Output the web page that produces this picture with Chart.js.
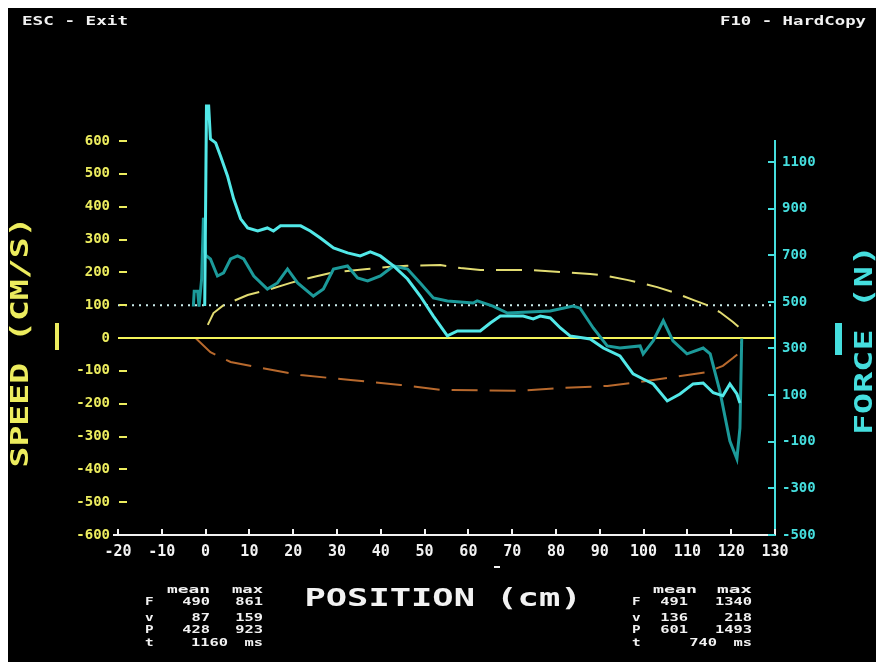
<!DOCTYPE html>
<html><head><meta charset="utf-8">
<script src="https://cdn.jsdelivr.net/npm/chart.js@4"></script>
<style>
html,body{margin:0;padding:0;background:#fff;width:876px;height:662px;overflow:hidden;}
#wrap{position:absolute;left:8px;top:8px;width:868px;height:654px;background:#000;}
canvas{display:block;}
</style></head><body>
<div id="wrap"><canvas id="c" width="868" height="654"></canvas></div>
<script>
// ---- axis ticks ----
const positionTicks = [-20,-10,0,10,20,30,40,50,60,70,80,90,100,110,120,130];
const speedTicks = [-600,-500,-400,-300,-200,-100,0,100,200,300,400,500,600];
const forceTicks = [-500,-300,-100,100,300,500,700,900,1100];

// ---- force curves (N) vs position (cm) ----
const forceAPos = [-2.8,-2.6,-1.8,-1.5,-0.9,-0.5,0.0,1.1,2.7,4.1,5.7,7.3,8.7,11.0,14.1,16.4,18.7,21.0,24.6,26.9,29.2,32.4,34.7,37.0,39.9,42.9,46.1,49.0,52.0,55.2,61.1,62.0,65.6,68.9,78.7,83.9,85.5,88.5,91.7,94.6,99.2,99.9,102.2,104.5,106.7,109.9,113.6,115.2,117.4,119.7,121.3,122.0,122.4];
const forceAVal = [480,545,545,480,600,861,700,684,611,624,684,697,684,611,555,581,641,581,525,555,641,654,603,590,611,654,641,581,517,504,495,504,482,452,461,482,473,388,311,302,311,277,333,419,333,277,302,277,118,-97,-174,-41,343];

const forceBPos = [-0.2,0.2,0.7,1.1,2.3,3.4,5.0,6.4,8.0,9.6,11.9,14.1,15.5,17.1,21.7,23.9,26.2,29.2,32.4,35.3,37.6,39.9,42.9,46.1,49.0,52.0,55.2,57.5,62.7,65.0,67.3,72.5,74.8,76.4,78.7,81.0,83.2,87.8,90.8,94.6,97.6,99.9,102.2,105.4,108.3,111.3,113.6,115.9,118.1,119.7,121.3,122.0];
const forceBVal = [482,1340,1340,1199,1182,1126,1040,942,856,817,804,817,804,826,826,804,774,731,710,697,714,697,654,598,525,439,354,375,375,409,439,439,427,439,431,388,354,341,302,268,191,169,148,75,105,148,152,110,97,148,105,66];

// ---- speed curves (cm/s) vs position (cm) ----
const speedAPos = [0.5,1.8,4.1,9.6,14.1,19.4,24.6,28.5,32.4,36.9,41.5,46.0,53.6,58.2,62.7,74.1,81.0,87.8,91.7,96.2,99.2,103.1,106.7,111.3,114.5,117.4,120.4,122.0,122.3];
const speedAVal = [40,76,100,131,146,168,186,198,204,210,216,220,222,213,207,207,201,195,189,177,168,155,140,116,100,79,49,30,5];

const speedBPos = [-2.3,1.1,5.7,12.5,21.7,33.1,44.5,53.6,71.8,81.6,91.7,99.2,106.7,114.5,118.1,120.4,122.0,122.3];
const speedBVal = [0,-43,-73,-91,-113,-128,-143,-158,-161,-152,-146,-134,-119,-104,-85,-61,-43,-10];

// reference lines (speed axis)
const zeroLineVal = 0;
const dottedLineVal = 100;

// ---- texts ----
const statHeader = ['mean','max'];
const statRows = ['F','v','P','t'];
const leftMean = ['490','87','428','1160'];
const leftMax = ['861','159','923','ms'];
const rightMean = ['491','136','601','740'];
const rightMax = ['1340','218','1493','ms'];

const pts = (xs, ys) => xs.map((x,i)=>({x:x, y:ys[i]}));

const YEL = '#ecec5e', CYAN = '#45dede', WHITE = '#f2f2f2';
const OFF = 8;

function drawFit(ctx, text, x, y, opts){
  const o = Object.assign({size:12, sx:null, w:null, color:WHITE, align:'left', rot:0}, opts);
  ctx.save();
  ctx.font = 'bold ' + o.size + 'px "DejaVu Sans Mono"';
  let sx = o.sx || 1;
  if (o.w) sx = o.w / ctx.measureText(text).width;
  ctx.translate(x - OFF, y - OFF);
  if (o.rot) ctx.rotate(o.rot);
  ctx.scale(sx, 1);
  ctx.textAlign = o.align; ctx.textBaseline = 'middle';
  ctx.fillStyle = o.color;
  ctx.fillText(text, 0, 0);
  ctx.restore();
}

const decor = {
  id: 'decor',
  beforeDraw(chart){
    const ctx = chart.ctx;
    ctx.save(); ctx.fillStyle = '#000'; ctx.fillRect(0,0,chart.width,chart.height); ctx.restore();
  },
  afterDraw(chart){
    const ctx = chart.ctx, ca = chart.chartArea;
    const xs = chart.scales.x, sp = chart.scales.speed, fo = chart.scales.force;
    ctx.save();
    ctx.lineWidth = 2;
    // x axis ticks (upward) + small extension to the left
    ctx.strokeStyle = WHITE;
    ctx.beginPath();
    positionTicks.forEach(v => { const p = Math.round(xs.getPixelForValue(v)); ctx.moveTo(p, ca.bottom); ctx.lineTo(p, ca.bottom - 6); });
    ctx.moveTo(ca.left - 5, ca.bottom); ctx.lineTo(ca.left, ca.bottom);
    ctx.stroke();
    // speed ticks (short dashes right of labels)
    ctx.strokeStyle = YEL;
    ctx.beginPath();
    speedTicks.forEach(v => { if (v === 0 || v === -600) return; const p = Math.round(sp.getPixelForValue(v)); ctx.moveTo(ca.left + 1, p); ctx.lineTo(ca.left + 9, p); });
    ctx.stroke();
    // force ticks (pointing left)
    ctx.strokeStyle = CYAN;
    ctx.beginPath();
    forceTicks.forEach(v => { const p = Math.round(fo.getPixelForValue(v)); ctx.moveTo(ca.right - 7, p); ctx.lineTo(ca.right, p); });
    ctx.stroke();
    ctx.restore();

    // header
    drawFit(ctx, 'ESC - Exit', 22, 22, {size:13, w:106});
    drawFit(ctx, 'F10 - HardCopy', 720, 22, {size:13, w:146});
    // axis titles
    drawFit(ctx, 'SPEED (CM/S)', 22, 342, {size:24, w:251, color:YEL, align:'center', rot:-Math.PI/2});
    drawFit(ctx, 'FORCE (N)', 866, 340, {size:24, w:190, color:CYAN, align:'center', rot:-Math.PI/2});
    drawFit(ctx, 'POSITION (cm)', 443, 600, {size:24, w:277, align:'center'});
    // legend bars
    ctx.save();
    ctx.fillStyle = YEL; ctx.fillRect(55-OFF, 323-OFF, 4, 27);
    ctx.fillStyle = CYAN; ctx.fillRect(835-OFF, 323-OFF, 7, 32);
    ctx.fillStyle = WHITE; ctx.fillRect(494-OFF, 566-OFF, 6, 2);
    ctx.restore();
    // stats blocks
    const rowsY = [602, 618, 630, 643];
    const blocks = [
      {lab:145, meanR:210, tMeanR:228, maxR:263, hMean:[167,210], hMax:[232,263], mean:leftMean, max:leftMax},
      {lab:632, meanR:688, tMeanR:717, maxR:752, hMean:[653,697], hMax:[717,752], mean:rightMean, max:rightMax}
    ];
    blocks.forEach(b => {
      drawFit(ctx, statHeader[0], b.hMean[0], 590, {size:11, w:b.hMean[1]-b.hMean[0]});
      drawFit(ctx, statHeader[1], b.hMax[0], 590, {size:11, w:b.hMax[1]-b.hMax[0]});
      statRows.forEach((r, i) => {
        const y = rowsY[i];
        drawFit(ctx, r, b.lab, y, {size:11, sx:1.3});
        drawFit(ctx, b.mean[i], r === 't' ? b.tMeanR : b.meanR, y, {size:11, sx:1.4, align:'right'});
        drawFit(ctx, b.max[i], b.maxR, y, {size:11, sx:1.4, align:'right'});
      });
    });
  }
};

const tickFont = {family:'DejaVu Sans Mono', weight:'bold', size:14};

new Chart(document.getElementById('c'), {
  type: 'line',
  data: {
    datasets: [
      {label:'Force 2 (N)', data: pts(forceBPos, forceBVal), yAxisID:'force', borderColor:'#52e8e8', borderWidth:3, order:1, clip:false},
      {label:'Force 1 (N)', data: pts(forceAPos, forceAVal), yAxisID:'force', borderColor:'#1c9a9a', borderWidth:3, order:2, clip:false},
      {label:'Speed 0', data: pts([-20,130],[zeroLineVal,zeroLineVal]), yAxisID:'speed', borderColor:'#f4f45a', borderWidth:2, order:3},
      {label:'Speed 2 (cm/s)', data: pts(speedAPos, speedAVal), yAxisID:'speed', borderColor:'#e2dc72', borderWidth:2, borderDash:[26,12], order:4},
      {label:'Speed 1 (cm/s)', data: pts(speedBPos, speedBVal), yAxisID:'speed', borderColor:'#b8692d', borderWidth:2, borderDash:[26,12], order:5},
      {label:'Reference', data: pts([-20,130],[dottedLineVal,dottedLineVal]), yAxisID:'speed', borderColor:'#cdeeee', borderWidth:2, borderDash:[2,5], order:6}
    ]
  },
  options: {
    responsive:false, animation:false,
    elements:{point:{radius:0, hoverRadius:0}, line:{tension:0, fill:false}},
    plugins:{legend:{display:false}, tooltip:{enabled:false}},
    layout:{padding:{top:133, left:0, right:0, bottom:0}},
    scales:{
      x:{
        type:'linear', min:-20, max:130,
        afterBuildTicks: s => { s.ticks = positionTicks.map(v => ({value:v})); },
        afterFit: s => { s.height = 127; },
        grid:{display:false, drawTicks:false},
        border:{display:true, color:WHITE, width:2},
        ticks:{color:WHITE, font:{family:'DejaVu Sans Mono', weight:'bold', size:15}, padding:8, maxRotation:0, autoSkip:false, callback: v => String(v)}
      },
      speed:{
        type:'linear', position:'left', min:-600, max:600,
        afterBuildTicks: s => { s.ticks = speedTicks.map(v => ({value:v})); },
        afterFit: s => { s.width = 110; },
        grid:{display:false, drawTicks:false},
        border:{display:false},
        ticks:{color:YEL, font:tickFont, padding:8, autoSkip:false, callback: v => String(v)}
      },
      force:{
        type:'linear', position:'right', min:-500, max:1190,
        afterBuildTicks: s => { s.ticks = forceTicks.map(v => ({value:v})); },
        afterFit: s => { s.width = 101; },
        grid:{display:false, drawTicks:false},
        border:{display:true, color:CYAN, width:2},
        ticks:{color:CYAN, font:tickFont, padding:7, autoSkip:false, callback: v => String(v)}
      }
    }
  },
  plugins:[decor]
});
</script>
</body></html>
